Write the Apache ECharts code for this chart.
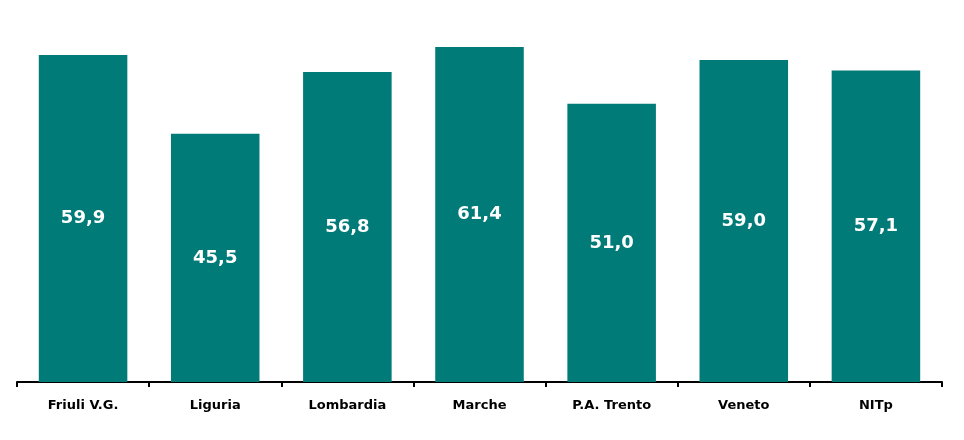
<!DOCTYPE html>
<html><head><meta charset="utf-8">
<script src="https://cdn.jsdelivr.net/npm/echarts@6/dist/echarts.min.js"></script>
<style>html,body{margin:0;padding:0;background:#fff}#c{width:964px;height:440px}</style>
</head><body><div id="c"></div>
<script>
var categories = ["Friuli V.G.", "Liguria", "Lombardia", "Marche", "P.A. Trento", "Veneto", "NITp"];
var values = [59.9, 45.5, 56.8, 61.4, 51.0, 59.0, 57.1];
var chart = echarts.init(document.getElementById('c'));
chart.setOption({
  animation: false,
  grid: {left: 17, right: 22, top: 0, bottom: 58},
  xAxis: {
    type: 'category', data: categories,
    axisLine: {lineStyle: {color: '#000', width: 2}},
    axisTick: {show: true, length: 5, lineStyle: {color: '#000', width: 2}},
    axisLabel: {color: '#000', fontFamily: 'DejaVu Sans', fontWeight: 'bold', fontSize: 13, margin: 17}
  },
  yAxis: {type: 'value', min: 0, max: 70, show: false, splitLine: {show: false}},
  series: [{
    type: 'bar', data: values, barCategoryGap: '33%',
    itemStyle: {color: '#007B77'},
    label: {show: true, position: 'inside', color: '#fff', fontFamily: 'DejaVu Sans', fontWeight: 'bold', fontSize: 18,
      formatter: function(p){ return p.value.toFixed(1).replace('.', ','); }}
  }]
});
</script></body></html>
